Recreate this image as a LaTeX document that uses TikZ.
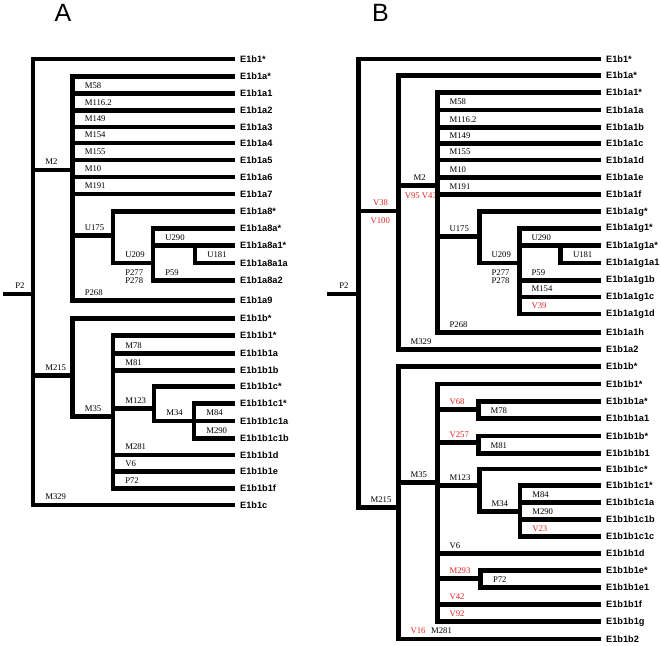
\documentclass[tikz,border=0pt]{standalone}
\usepackage{fontspec}
\setmainfont{Liberation Serif}
\newfontfamily\leaffont{Liberation Sans}
\definecolor{varred}{RGB}{226,38,38}
\tikzset{
    branch/.style={line width=4.6pt, line join=miter},
    leaf/.style={anchor=west, inner xsep=5pt, inner ysep=0pt, font=\leaffont\bfseries\fontsize{9.2}{11}\selectfont},
    mkbase/.style={inner sep=0pt, font=\fontsize{8.7}{7.7}\selectfont},
    mk/.style={mkbase, anchor=south west, xshift=10pt, yshift=2.8pt},
    mkbelow/.style={mkbase, anchor=north west, xshift=10pt, yshift=-4.4pt, align=left},
    newmk/.style={mk, text=varred},
    newmkbelow/.style={mkbelow, text=varred},
    panel/.style={inner sep=0pt, font=\leaffont\fontsize{25}{25}\selectfont}
}

\begin{document}
\begin{tikzpicture}[x=1pt, y=-1pt]
    \useasboundingbox (0,0) rectangle (661,645);

    % Panel titles
    \node (titleA) [panel] at (63,12.5) {A};
    \node (titleB) [panel] at (380.5,12.5) {B};

    % Panel A: leaves
    \node (Atop) [leaf] at (235,59) {E1b1*};
    \node (Aas) [leaf] at (235,76.5) {E1b1a*};
    \node (Aa1) [leaf] at (235,93.3) {E1b1a1};
    \node (Aa2) [leaf] at (235,110.5) {E1b1a2};
    \node (Aa3) [leaf] at (235,127) {E1b1a3};
    \node (Aa4) [leaf] at (235,143) {E1b1a4};
    \node (Aa5) [leaf] at (235,160) {E1b1a5};
    \node (Aa6) [leaf] at (235,177) {E1b1a6};
    \node (Aa7) [leaf] at (235,194) {E1b1a7};
    \node (Aa8s) [leaf] at (235,211.5) {E1b1a8*};
    \node (Aa8as) [leaf] at (235,228.3) {E1b1a8a*};
    \node (Aa8a1s) [leaf] at (235,245.7) {E1b1a8a1*};
    \node (Aa8a1a) [leaf] at (235,263) {E1b1a8a1a};
    \node (Aa8a2) [leaf] at (235,280.3) {E1b1a8a2};
    \node (Aa9) [leaf] at (235,300.7) {E1b1a9};
    \node (Abs) [leaf] at (235,318.3) {E1b1b*};
    \node (Ab1s) [leaf] at (235,335.3) {E1b1b1*};
    \node (Ab1a) [leaf] at (235,353.5) {E1b1b1a};
    \node (Ab1b) [leaf] at (235,370.3) {E1b1b1b};
    \node (Ab1cs) [leaf] at (235,386.7) {E1b1b1c*};
    \node (Ab1c1s) [leaf] at (235,403.7) {E1b1b1c1*};
    \node (Ab1c1a) [leaf] at (235,421) {E1b1b1c1a};
    \node (Ab1c1b) [leaf] at (235,438.3) {E1b1b1c1b};
    \node (Ab1d) [leaf] at (235,455) {E1b1b1d};
    \node (Ab1e) [leaf] at (235,471.7) {E1b1b1e};
    \node (Ab1f) [leaf] at (235,488.3) {E1b1b1f};
    \node (Ac) [leaf] at (235,505) {E1b1c};

    % Panel A: branch points
    \coordinate (Astub) at (3,294);
    \coordinate (Aroot) at (33,294);
    \coordinate (Am2) at (72.5,170);
    \coordinate (Au175) at (113,235.7);
    \coordinate (Au209) at (153,263);
    \coordinate (Au290) at (195,245.7);
    \coordinate (Am215) at (72.5,375.7);
    \coordinate (Am35) at (113,416.7);
    \coordinate (Am123) at (154,408.5);
    \coordinate (Am34) at (194,421);

    % Panel A: branches
    \draw[branch] (Astub) -- node[mk, pos=0] {P2} (Aroot);
    \draw[branch] (Aroot) |- (Atop.west)
        (Aroot) |- node[mk] {M2} (Am2)
        (Aroot) |- node[mk] {M215} (Am215)
        (Aroot) |- node[mk] {M329} (Ac.west);
    \draw[branch] (Am2) |- (Aas.west)
        (Am2) |- node[mk] {M58} (Aa1.west)
        (Am2) |- node[mk] {M116.2} (Aa2.west)
        (Am2) |- node[mk] {M149} (Aa3.west)
        (Am2) |- node[mk] {M154} (Aa4.west)
        (Am2) |- node[mk] {M155} (Aa5.west)
        (Am2) |- node[mk] {M10} (Aa6.west)
        (Am2) |- node[mk] {M191} (Aa7.west)
        (Am2) |- node[mk] {U175} (Au175)
        (Am2) |- node[mk] {P268} (Aa9.west);
    \draw[branch] (Au175) |- (Aa8s.west)
        (Au175) |- node[mk] {U209} node[mkbelow] {P277\\P278} (Au209);
    \draw[branch] (Au209) |- (Aa8as.west)
        (Au209) |- node[mk] {U290} (Au290)
        (Au209) |- node[mk] {P59} (Aa8a2.west);
    \draw[branch] (Au290) -- (Aa8a1s.west)
        (Au290) |- node[mk] {U181} (Aa8a1a.west);
    \draw[branch] (Am215) |- (Abs.west)
        (Am215) |- node[mk] {M35} (Am35);
    \draw[branch] (Am35) |- (Ab1s.west)
        (Am35) |- node[mk] {M78} (Ab1a.west)
        (Am35) |- node[mk] {M81} (Ab1b.west)
        (Am35) |- node[mk] {M123} (Am123)
        (Am35) |- node[mk] {M281} (Ab1d.west)
        (Am35) |- node[mk] {V6} (Ab1e.west)
        (Am35) |- node[mk] {P72} (Ab1f.west);
    \draw[branch] (Am123) |- (Ab1cs.west)
        (Am123) |- node[mk] {M34} (Am34);
    \draw[branch] (Am34) |- (Ab1c1s.west)
        (Am34) |- node[mk] {M84} (Ab1c1a.west)
        (Am34) |- node[mk] {M290} (Ab1c1b.west);

    % Panel B: leaves
    \node (Btop) [leaf] at (601,59) {E1b1*};
    \node (Bas) [leaf] at (601,75.7) {E1b1a*};
    \node (Ba1s) [leaf] at (601,92.7) {E1b1a1*};
    \node (Ba1a) [leaf] at (601,110) {E1b1a1a};
    \node (Ba1b) [leaf] at (601,127.3) {E1b1a1b};
    \node (Ba1c) [leaf] at (601,143.7) {E1b1a1c};
    \node (Ba1d) [leaf] at (601,160) {E1b1a1d};
    \node (Ba1e) [leaf] at (601,177.3) {E1b1a1e};
    \node (Ba1f) [leaf] at (601,194.3) {E1b1a1f};
    \node (Ba1gs) [leaf] at (601,211.7) {E1b1a1g*};
    \node (Ba1g1s) [leaf] at (601,228.3) {E1b1a1g1*};
    \node (Ba1g1as) [leaf] at (601,245.7) {E1b1a1g1a*};
    \node (Ba1g1a1) [leaf] at (601,263) {E1b1a1g1a1};
    \node (Ba1g1b) [leaf] at (601,280.3) {E1b1a1g1b};
    \node (Ba1g1c) [leaf] at (601,297) {E1b1a1g1c};
    \node (Ba1g1d) [leaf] at (601,314) {E1b1a1g1d};
    \node (Ba1h) [leaf] at (601,332.7) {E1b1a1h};
    \node (Ba2) [leaf] at (601,349.3) {E1b1a2};
    \node (Bbs) [leaf] at (601,366.7) {E1b1b*};
    \node (Bb1s) [leaf] at (601,384) {E1b1b1*};
    \node (Bb1as) [leaf] at (601,401.7) {E1b1b1a*};
    \node (Bb1a1) [leaf] at (601,418.7) {E1b1b1a1};
    \node (Bb1bs) [leaf] at (601,436) {E1b1b1b*};
    \node (Bb1b1) [leaf] at (601,453.3) {E1b1b1b1};
    \node (Bb1cs) [leaf] at (601,469) {E1b1b1c*};
    \node (Bb1c1s) [leaf] at (601,485.7) {E1b1b1c1*};
    \node (Bb1c1a) [leaf] at (601,502.3) {E1b1b1c1a};
    \node (Bb1c1b) [leaf] at (601,519.3) {E1b1b1c1b};
    \node (Bb1c1c) [leaf] at (601,536.7) {E1b1b1c1c};
    \node (Bb1d) [leaf] at (601,553.3) {E1b1b1d};
    \node (Bb1es) [leaf] at (601,570.7) {E1b1b1e*};
    \node (Bb1e1) [leaf] at (601,587.7) {E1b1b1e1};
    \node (Bb1f) [leaf] at (601,604.3) {E1b1b1f};
    \node (Bb1g) [leaf] at (601,621.7) {E1b1b1g};
    \node (Bb2) [leaf] at (601,639) {E1b1b2};

    % Panel B: branch points
    \coordinate (Bstub) at (327,294);
    \coordinate (Broot) at (358.3,294);
    \coordinate (Bv38) at (398.3,211);
    \coordinate (Bm2) at (437.3,185.7);
    \coordinate (Bu175) at (479.3,236.5);
    \coordinate (Bu209) at (519.3,263);
    \coordinate (Bu290) at (560.7,245.7);
    \coordinate (Bm215) at (398.3,507.3);
    \coordinate (Bm35) at (437.3,482.7);
    \coordinate (Bv68) at (478.3,409.3);
    \coordinate (Bv257) at (478.3,442.7);
    \coordinate (Bm123) at (479.3,485.7);
    \coordinate (Bm34) at (520,511.7);
    \coordinate (Bm293) at (480.7,578.3);

    % Panel B: branches
    \draw[branch] (Bstub) -- node[mk, pos=0] {P2} (Broot);
    \draw[branch] (Broot) |- (Btop.west)
        (Broot) |- node[newmk, xshift=2.4pt] {V38} node[newmkbelow] {V100} (Bv38)
        (Broot) |- node[mk] {M215} (Bm215);
    \draw[branch] (Bv38) |- (Bas.west)
        (Bv38) |- node[mk, xshift=3pt] {M2} node[newmkbelow, xshift=-5.8pt] {V95 V43} (Bm2)
        (Bv38) |- node[mk] {M329} (Ba2.west);
    \draw[branch] (Bm2) |- (Ba1s.west)
        (Bm2) |- node[mk] {M58} (Ba1a.west)
        (Bm2) |- node[mk] {M116.2} (Ba1b.west)
        (Bm2) |- node[mk] {M149} (Ba1c.west)
        (Bm2) |- node[mk] {M155} (Ba1d.west)
        (Bm2) |- node[mk] {M10} (Ba1e.west)
        (Bm2) |- node[mk] {M191} (Ba1f.west)
        (Bm2) |- node[mk] {U175} (Bu175)
        (Bm2) |- node[mk] {P268} (Ba1h.west);
    \draw[branch] (Bu175) |- (Ba1gs.west)
        (Bu175) |- node[mk] {U209} node[mkbelow] {P277\\P278} (Bu209);
    \draw[branch] (Bu209) |- (Ba1g1s.west)
        (Bu209) |- node[mk] {U290} (Bu290)
        (Bu209) |- node[mk] {P59} (Ba1g1b.west)
        (Bu209) |- node[mk] {M154} (Ba1g1c.west)
        (Bu209) |- node[newmk] {V39} (Ba1g1d.west);
    \draw[branch] (Bu290) -- (Ba1g1as.west)
        (Bu290) |- node[mk] {U181} (Ba1g1a1.west);
    \draw[branch] (Bm215) |- (Bbs.west)
        (Bm215) |- node[mk] {M35} (Bm35)
        (Bm215) |- node[mk] {\textcolor{varred}{V16}\hspace{5.5pt}M281} (Bb2.west);
    \draw[branch] (Bm35) |- (Bb1s.west)
        (Bm35) |- node[newmk] {V68} (Bv68)
        (Bm35) |- node[newmk] {V257} (Bv257)
        (Bm35) |- node[mk] {M123} (Bm123)
        (Bm35) |- node[mk] {V6} (Bb1d.west)
        (Bm35) |- node[newmk] {M293} (Bm293)
        (Bm35) |- node[newmk] {V42} (Bb1f.west)
        (Bm35) |- node[newmk] {V92} (Bb1g.west);
    \draw[branch] (Bv68) |- (Bb1as.west)
        (Bv68) |- node[mk] {M78} (Bb1a1.west);
    \draw[branch] (Bv257) |- (Bb1bs.west)
        (Bv257) |- node[mk] {M81} (Bb1b1.west);
    \draw[branch] (Bm123) |- (Bb1cs.west)
        (Bm123) |- node[mk] {M34} (Bm34);
    \draw[branch] (Bm34) |- (Bb1c1s.west)
        (Bm34) |- node[mk] {M84} (Bb1c1a.west)
        (Bm34) |- node[mk] {M290} (Bb1c1b.west)
        (Bm34) |- node[newmk] {V23} (Bb1c1c.west);
    \draw[branch] (Bm293) |- (Bb1es.west)
        (Bm293) |- node[mk] {P72} (Bb1e1.west);
\end{tikzpicture}
\end{document}
